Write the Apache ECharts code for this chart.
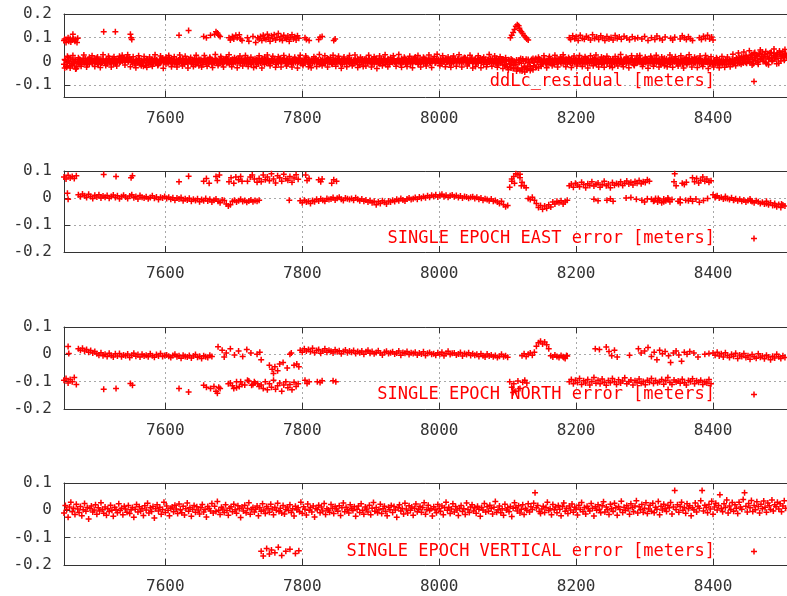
<!DOCTYPE html>
<html><head><meta charset="utf-8">
<script src="https://cdn.jsdelivr.net/npm/echarts@6/dist/echarts.min.js"></script>
<style>html,body{margin:0;padding:0;background:#fff}#c{width:787px;height:596px}</style>
</head><body><div id="c"></div>
<script>
// ---- axes / labels ----
const xMin = 7452, xMax = 8508;
const xTicks = [7600, 7800, 8000, 8200, 8400];
const yTicksRes = [-0.1, 0, 0.1, 0.2];
const yTicksPos = [-0.2, -0.1, 0, 0.1];
const titles = ['ddLc_residual [meters]', 'SINGLE EPOCH EAST error [meters]', 'SINGLE EPOCH NORTH error [meters]', 'SINGLE EPOCH VERTICAL error [meters]'];

// ---- panel 1: ddLc residuals (mm), epochs every 2 from 7452 ----
const resStart = 7452, resStep = 2;
const resBandA = [
-12,5,-25,3,-8,10,-18,-2,8,-30, 0,-10,6,-4,12,-6,2,-14,8,-1, 4,-9,11,-3,7,-12,1,9,-5,3, -7,6,0,13,-4,2,-10,8,5,-2,
6,-2,12,3,15,5,18,-1,10,4, -6,2,-15,7,-3,10,-9,1,-20,5, -4,9,-11,3,6,-7,12,-2,4,-13, 7,0,14,-5,9,2,-8,16,3,-3,
5,-10,8,1,-6,11,-2,6,-12,4, -3,10,0,-9,7,3,-14,9,-1,5, 8,-5,2,12,-7,4,-2,10,-11,1, -6,7,3,-10,5,13,-4,0,9,-8,
2,-12,6,9,-3,1,11,-6,4,-9, 10,0,-7,5,14,-4,2,-13,7,3, -2,8,-10,4,0,12,-5,6,-8,9, 3,-6,11,-1,7,-12,5,1,13,-4,
0,9,-8,6,-3,10,-11,2,8,-5, 6,-2,12,-9,4,1,-6,15,-3,7, -8,3,9,-4,11,-1,5,-10,2,8, 1,-7,4,10,-5,7,-12,3,9,-2,
-4,6,-9,2,12,-6,0,8,-3,5, 7,-11,3,9,-2,5,-15,4,10,-6, -1,8,-5,11,0,-9,6,-3,13,2, 4,-8,10,-2,7,-13,3,9,-6,1,
-5,11,2,-7,8,4,-10,6,-1,12, 3,-4,9,-11,5,0,14,-3,7,-8, 10,-2,6,1,-9,8,3,-5,12,0, 5,-7,11,4,-3,9,-10,7,2,13,
-2,8,4,-8,12,1,6,-4,10,-6, 9,3,-5,14,0,7,-9,5,11,-1, 4,-10,8,2,13,-6,6,-2,9,-12, 7,1,-8,10,-4,5,12,-15,3,-7,
-5,8,-18,2,-25,6,-12,4,-30,1, -12,-32,5,-38,-8,10,-25,2,-35,8, -5,-30,2,-18,8,-25,-3,10,-12,5, -4,9,-10,3,12,-6,1,7,-13,4,
11,-3,6,-9,2,14,-5,8,-1,10, -7,4,12,-2,7,-11,5,1,9,-6, 3,13,-4,8,-9,2,11,-3,6,-12, 9,-1,5,-8,14,0,7,-5,3,10,
-6,6,-11,4,1,12,-3,8,-9,2, 5,-7,10,0,-4,9,-13,6,11,-2, -3,12,2,-10,7,-5,8,1,-8,13, 6,-9,4,11,-2,3,-12,9,0,-6,
10,-4,7,-7,13,2,-1,5,-10,8, -8,3,9,-3,6,-13,1,11,-5,4, 2,-6,12,0,-9,7,4,-11,8,-2, -5,6,-10,1,-14,4,-7,9,-3,-12,
3,-9,-2,7,-13,0,5,-6,10,-8, 6,14,-4,18,2,22,-7,10,25,1, 15,-5,28,8,35,3,20,-12,30,12, 40,6,22,-10,32,14,38,0,25,18,
10,36,-8,28,20,42,5,30
];
const resBandB = [
8,-20,-5,15,-28,-10,6,-15,2,-22, -5,9,-13,3,-2,11,-8,5,-11,7, -8,2,-4,13,-10,5,-1,-7,10,-3, 4,-11,9,-6,1,12,-3,-9,3,11,
-6,10,2,14,-3,11,4,16,6,-2, 6,-9,3,-4,12,-13,4,-7,8,-16, 10,-6,2,-14,8,0,-5,7,-10,3, -6,11,-3,5,-11,8,1,-4,12,-9,
9,-2,-13,6,3,-8,12,-5,1,7, -10,4,8,-3,-12,11,2,-6,9,-4, 3,-13,9,-1,6,-8,13,-3,5,-6, 12,-2,-9,6,0,-11,8,4,-5,10,
-7,5,-2,-10,9,-5,3,12,-8,6, -4,9,3,-11,1,7,-9,5,-2,11, 6,-3,12,-7,8,0,-12,3,10,-5, -9,7,0,9,-5,4,-8,11,-2,6,
12,-4,5,-10,7,-1,4,-7,10,2, -3,10,-7,3,-11,8,5,-2,9,-10, 5,-9,2,12,-4,6,-13,7,0,-6, -8,6,11,-3,2,-10,8,-5,4,12,
9,-1,4,-12,6,3,-7,11,-9,0, -3,5,-8,1,10,-13,7,-2,-6,9, 11,-6,2,-4,8,5,-11,9,-2,-8, -10,6,-3,12,-7,2,9,-12,4,7,
8,-2,-9,5,0,-6,12,-4,7,-11, -6,10,1,7,-8,11,-2,5,-12,3, -3,7,-10,12,2,-5,9,-8,1,6, 11,-4,1,8,-9,3,12,-2,7,-5,
6,-10,13,0,-6,10,-3,9,-1,4, -4,12,7,-3,9,-7,3,13,-5,8, 11,-3,-8,6,1,10,-12,4,-5,7, -2,12,4,-6,9,-10,2,8,-4,6,
10,-14,3,-22,7,-10,-28,5,-16,-6, 6,-28,-5,12,-40,3,-20,9,-30,-6, -22,8,-35,-4,12,0,-28,6,3,-9, 8,-5,2,-12,6,10,-8,0,9,-3,
-6,7,-2,11,-8,4,9,-11,3,-4, 10,-9,1,7,-5,12,-3,-8,4,11, -11,5,8,-6,2,-8,6,12,-7,3, -4,7,-12,3,-6,9,-9,11,-2,-7,
10,-2,5,-8,11,-4,6,-12,4,9, -9,12,-3,7,9,-6,3,-1,-7,6, 8,-6,-11,5,-2,10,-9,4,12,-4, -1,11,-6,2,9,-10,6,-5,13,2,
-7,4,-12,9,-3,6,11,-8,3,-2, 7,-11,2,12,-9,5,-4,-1,10,-7, -4,9,-3,6,11,-8,-10,5,0,10, 4,-11,3,-8,2,-9,7,-15,6,0,
-10,5,-14,2,8,-11,3,-4,-12,6, -6,10,3,-8,15,5,12,-3,20,8, 0,24,10,-10,18,26,2,32,9,22, 14,30,-4,20,10,36,16,4,34,22,
28,12,38,2,24,16,34,20
];
// third group: the band's outer points, every 4 from 7453
const resEdgeStart = 7453, resEdgeStep = 4;
const resBandC = [
-28,22,-18,25,-32,15,-20,27,-24,18, 24,-21,19,-26,28,-17,22,-23,20,-19, 22,26,-15,28,-22,20,-27,24,-18,21, -25,19,-20,28,-17,23,-29,18,25,-22,
20,-24,27,-19,22,-28,17,-21,26,-18, -23,25,-20,18,-26,29,-17,21,-24,19, 28,-22,16,-27,23,-19,25,-21,18,-26, -20,24,-28,19,27,-18,22,-25,20,-23,
25,-19,21,-24,18,-28,26,-17,23,-22, -27,20,-21,29,-18,24,-23,17,26,-20, 22,-29,19,-22,25,-18,27,-26,18,-21, -19,26,-24,20,-30,23,-18,28,-22,17,
24,-20,29,-25,18,-21,22,-27,19,25, -23,18,-19,27,-26,21,30,-18,24,-22, 19,-25,23,-20,28,-24,17,-19,26,-28, -21,24,-27,18,-22,29,-20,23,-25,20,
-30,15,-35,10,-28,-40,5,-32,-45,-20, -38,12,-25,18,-20,24,-27,21,-18,26, -24,19,28,-22,17,-26,23,-19,25,-21, 20,-28,24,-18,27,-23,19,-25,22,-20,
-26,21,-19,29,-22,18,-27,24,-17,23, 25,-21,18,-29,22,-20,26,-24,19,-18, -22,27,-25,20,-19,24,-28,17,28,-23, 18,-26,23,-21,25,-30,20,-24,16,-27,
21,-25,19,-22,30,-18,36,-12,40,-8, 45,-15,38,-5,48,0,42,-14,36,52, -10,44,30,50
];
const resUpper = [
[7452,88],[7453,95],[7455,80],[7456,92],[7458,100],[7459,85],[7461,97],[7462,82],[7464,90],[7465,115],[7466,95],[7468,85],[7469,92],[7471,80],[7472,98],
[7510,125],[7527,125],[7549,115],[7550,100],[7551,92],[7620,110],[7634,130],[7656,105],[7660,100],[7666,110],[7672,115],[7674,125],[7676,120],[7678,110],[7680,105],
[7693,100],[7695,90],[7698,105],[7700,95],[7703,110],[7705,100],[7708,112],[7710,95],[7712,88],[7720,100],[7722,85],[7728,105],[7732,80],[7735,100],
[7737,95],[7739,105],[7741,88],[7743,110],[7745,98],[7747,92],[7749,115],[7751,100],[7753,85],[7755,108],[7757,96],[7759,112],[7761,90],[7763,102],[7765,118],
[7767,94],[7769,105],[7771,88],[7773,110],[7775,99],[7777,93],[7779,107],[7781,85],[7783,101],[7785,112],[7787,95],[7789,104],[7791,90],[7793,108],[7795,98],
[7804,100],[7806,92],[7810,88],[7824,92],[7826,102],[7829,105],[7846,88],[7848,95],
[8104,100],[8106,110],[8108,122],[8110,135],[8112,148],[8114,155],[8116,150],[8117,140],[8118,132],[8120,125],[8122,118],[8124,108],[8126,102],[8128,95],[8130,90],
[8190,100],[8192,92],[8195,108],[8198,96],[8200,104],[8203,88],[8206,110],[8209,98],[8212,94],[8215,106],[8218,100],[8221,90],[8224,112],[8227,97],[8230,103],
[8233,92],[8236,108],[8239,99],[8242,88],[8245,105],[8248,95],[8251,101],[8254,90],[8257,109],[8260,97],[8263,103],[8266,93],[8270,106],[8274,99],[8278,91],
[8282,104],[8286,96],[8290,100],[8296,95],[8300,105],[8305,88],[8310,100],[8315,92],[8318,107],[8322,97],[8326,90],[8330,103],
[8338,98],[8341,90],[8344,102],[8352,95],[8355,108],[8358,100],[8361,92],[8364,104],[8367,96],[8370,88],
[8380,100],[8383,92],[8386,106],[8389,97],[8392,110],[8395,95],[8398,103],[8400,90]
];

// ---- panel 2: EAST error (mm), epochs every 3 from 7452 ----
const eastStart = 7452, eastStep = 3;
const eastMain = [
78,70,84,74,80,72,82,12,5,15, 8,2,14,6,-2,10,4,12,0,7, 3,9,-1,6,11,2,8,-3,5,10, 4,-2,7,12,1,6,-4,9,3,0,
5,-3,2,8,-1,4,-6,3,0,6, -2,3,-5,1,-8,0,-4,2,-10,-3, -7,-1,-12,-5,-9,-3,-14,-6,-10,-2, -11,-5,-15,-8,-4,-12,-18,-7,-9,-22,
-30,-25,-12,-8,-15,-10,-5,-13,-9,-16, -11,-7,-14,-9,-12,72,60,85,68,78, 64,90,70,56,82,75,62,88,71,66, 80,58,74,86,69,-10,-18,-8,-15,-12,
-20,-9,-14,-5,-11,-3,-8,-12,-2,-6, -4,2,-7,-1,3,-5,-9,0,-3,-6, -2,-8,1,-5,-10,-4,-12,-7,-15,-9, -18,-12,-25,-14,-20,-10,-16,-22,-11,-15,
-8,-13,-5,-10,-2,-7,-11,-4,0,-6, -3,2,-5,4,-1,6,1,8,3,10, 6,12,4,9,14,5,10,3,8,11, 5,9,2,7,0,6,4,-1,3,5,
-2,3,-5,0,-8,-3,-6,-10,-4,-12, -9,-15,-20,-12,-25,-32,-28,40,62,80, 90,86,75,58,45,38,-2,-6,3,-8, -20,-35,-28,-42,-30,-38,-25,-33,-15,-22,
-12,-18,-10,-22,-15,-8,45,52,40,55, 48,42,58,50,38,53,46,60,44,51, 56,40,49,62,45,52,38,57,47,54, 50,60,46,55,63,52,58,48,61,55,
65,53,60,57,68,62,-5,-12,-2,-15, -8,-18,-4,-10,0,-14,-6,60,45,-12, -5,55,50,58,-10,-3,75,60,72,56, 66,78,62,70,58,64,12,2,8,0,
3,-4,6,-2,-6,1,-8,-3,-10,-5, -12,-7,-15,-9,-4,-13,-18,-10,-14,-20, -16,-22,-12,-25,-18,-28,-20,-32,-24,-35, -26,-30
];
const eastExtra = [
[7457,18],[7458,-5],[7510,87],[7528,80],[7550,75],[7552,82],[7620,60],[7634,81],[7656,62],[7660,72],[7664,55],[7674,80],[7676,65],[7679,85],
[7693,60],[7696,75],[7700,55],[7703,78],[7707,68],[7710,80],[7712,62],[7720,62],[7724,78],[7727,85],[7730,70],[7734,58],[7737,-8],[7781,-8],
[7805,85],[7807,65],[7810,72],[7824,68],[7827,60],[7829,70],[7843,55],[7846,68],[7850,62],[8106,70],[8110,55],[8118,88],[8120,45],
[8226,-5],[8232,-10],[8245,-8],[8250,-3],[8254,-12],[8273,0],[8280,2],[8288,-5],[8296,-8],[8300,-15],[8304,-3],[8314,-10],[8320,-2],[8328,-14],
[8335,-6],[8344,90],[8352,-18],[8360,-8],[8370,-12],[8375,-4],[8380,-16],[8386,-9],[8392,-2],[8404,6],[8418,-1],[8430,-7],[8455,-10],[8478,-20],[8490,-27],[8500,-22]
];

// ---- panel 3: NORTH error (mm), epochs every 3 from 7452 ----
const northStart = 7452, northStep = 3;
const northMain = [
-95,-88,-105,-92,-100,-85,-110,20,15,22, 12,18,8,14,5,10,2,-3,6,-5, 0,-8,4,-4,-10,2,-6,3,-9,-2, -5,1,-12,-3,4,-7,-1,-10,0,-6,
-3,-9,2,-5,-11,-1,-6,3,-8,-4, -2,-7,-12,-4,0,-9,-5,-14,-3,-8, -10,-4,-13,-6,-1,-11,-7,-15,-5,-9, -12,-3,-8,-118,-135,28,-125,15,-10,5,
-108,20,-115,-2,-122,12,-100,-8,-112,18, -98,5,-110,-105,0,-118,-112,-125,-100,-130, -108,-120,-95,-128,-115,-105,-135,-112,-100,-122, -110,-130,-102,-118,-108,15,8,20,12,18,
10,22,6,14,18,4,12,20,8,15, 11,5,17,9,13,2,10,16,6,12, 8,14,3,10,6,12,0,9,15,4, 10,2,7,13,5,-2,8,11,3,6,
9,1,5,12,-3,7,4,10,-1,6, 3,8,-2,5,1,9,-4,4,7,0, 2,-3,6,0,8,-5,3,11,-1,4, 5,-2,1,7,-6,3,-1,6,-4,2,
-3,0,-8,2,-5,-10,1,-6,-2,-9, -4,-12,-7,0,-9,-5,-11,-100,-120,-108, -135,-98,-125,-5,2,-8,0,5,-3,8, 30,42,48,38,45,35,20,-5,-10,-2,
-8,-12,-4,-9,-15,-6,-100,-92,-108,-95, -103,-88,-110,-97,-105,-92,-112,-99,-85,-106, -95,-108,-90,-102,-113,-96,-104,-88,-100,-110, -93,-105,-98,-86,-108,-100,-94,-112,-97,-103,
-90,-106,-99,-111,-95,-102,-88,-107,-96,-104, -100,-92,-109,-97,-85,-103,-110,-94,-101,-98, -106,-91,-104,-112,-96,-100,-89,-108,-97,-102, -95,-110,-100,-105,-92,-108,5,-3,8,-6,
2,-10,6,-4,-12,0,-7,4,-15,-2, -8,3,-12,-5,-18,-1,-9,-14,2,-11, -6,-16,-3,-10,-20,-7,-13,0,-9,-15, -5,-12
];
const northExtra = [
[7458,29],[7459,3],[7510,-128],[7528,-125],[7549,-107],[7552,-113],[7620,-125],[7634,-138],[7656,-113],[7660,-120],[7666,-125],[7676,-142],[7678,-120],
[7695,-105],[7700,-125],[7704,-100],[7708,-118],[7712,-110],[7720,-95],[7726,-113],[7730,-100],[7735,-108],
[7738,8],[7740,-20],[7752,-40],[7756,-55],[7758,-70],[7760,-45],[7764,-60],[7767,-35],[7772,-30],[7778,-50],[7782,0],[7784,5],[7788,-40],[7792,-35],[7795,-45],
[7804,-95],[7807,-107],[7810,-100],[7822,-100],[7826,-103],[7829,-97],[7845,-97],[7849,-100],[8108,-140],[8122,-102],[8125,-95],[8128,-105],[8182,-12],[8186,-4],
[8228,20],[8234,18],[8244,27],[8248,10],[8252,-5],[8256,15],[8260,-10],[8278,-3],[8291,20],[8295,5],[8300,12],[8305,25],[8310,-8],[8314,8],[8318,-20],
[8322,15],[8326,2],[8330,10],[8335,-5],[8338,-30],[8342,5],[8346,12],[8350,-2],[8354,-25],[8358,8],[8362,0],[8366,10],[8372,5],[8378,-10],[8388,0],[8394,3]
];

// ---- panel 4: VERTICAL error (mm), epochs every 2 from 7452 ----
const vertStart = 7452, vertStep = 2;
const vertMain = [
-10,18,3,-25,12,30,-5,8,-15,22, 5,-8,14,-20,2,25,-3,10,-32,7, 16,-6,1,20,-14,9,-2,28,4,-11, 12,-18,6,-4,19,0,-22,11,3,-9,
24,-1,8,-16,15,5,-7,18,-12,2, 10,-25,4,21,-6,13,-3,7,-19,17, 1,26,-10,9,-4,14,-28,6,20,-2, 11,-14,3,30,-8,16,0,-20,8,12,
-5,19,5,-12,23,2,-9,15,-17,6, 27,-3,10,-22,4,18,-7,13,1,-13, 9,21,-6,3,-24,14,7,-2,25,-10, 15,-4,32,0,-15,11,5,-8,20,-1,
-18,8,13,-5,22,2,-11,17,6,-26, 12,-2,19,-9,7,28,-14,3,10,-6, 4,16,-20,9,-3,24,1,-12,14,7, -7,22,5,-16,11,0,26,-4,8,-10,
18,-13,3,12,-1,20,-8,6,-21,15, 2,9,-5,30,-11,13,4,-17,23,0, 10,-6,16,-24,7,3,19,-9,12,-2, 25,-15,6,1,-7,21,8,-12,14,5,
-3,17,-19,9,27,-5,11,2,-10,20, 7,-1,13,-22,4,16,-8,24,0,-14, 12,5,-6,19,-16,8,29,-3,10,-9, 3,22,-12,6,15,-4,-20,11,2,18,
-8,14,1,-25,9,20,-2,7,-13,26, 5,-10,17,0,12,-18,8,23,-5,4, 15,-7,10,28,-14,3,19,-1,6,-21, 13,2,-9,21,7,-3,16,-16,9,30,
0,11,-12,5,24,-6,14,1,-19,8, 18,-4,6,-15,27,3,-8,12,20,-2, 9,-11,15,4,-22,10,1,25,-6,13, -3,19,7,-13,11,32,-7,2,16,-9,
6,-18,22,1,9,-5,14,-23,8,28, 11,-2,17,-10,4,20,-15,7,0,24, -6,13,3,26,64,9,18,-4,-12,5, 15,-8,10,30,-1,6,-16,21,2,12,
-9,18,4,-20,14,27,-3,8,-12,16, 1,23,-7,11,5,-17,19,3,29,-5, 10,-13,15,6,-2,25,8,-21,13,0, 20,4,-9,17,31,-6,12,2,-15,22,
7,-4,26,9,-18,14,3,33,-8,11, -1,18,6,-14,24,10,-5,16,35,-10, 13,2,21,-7,8,28,-12,5,19,-3, 26,-9,11,4,32,-16,15,1,22,7,
-4,18,9,29,-13,12,73,3,20,-7, 14,30,0,10,-11,24,6,17,-20,9, 2,27,-6,15,8,35,73,-2,19,11, -9,21,5,33,-14,12,26,1,18,57,
7,-5,24,10,38,-10,16,3,29,-3, 20,8,-12,30,12,4,40,64,15,-6, 25,9,36,-4,18,2,31,14,-10,22, 6,34,11,-7,27,17,3,38,-2,20,
13,30,5,24,-5,16,35,8
];
const vertExtra = [
[7740,-150],[7743,-167],[7748,-140],[7752,-160],[7755,-145],[7760,-155],[7765,-135],[7770,-165],[7776,-150],[7782,-142],[7790,-158],[7795,-148]
];

// ---- build ----
function epochData(start, step, vals) {
  const out = [];
  vals.forEach((v, i) => { if (v !== null) out.push([start + step * i, v / 1000]); });
  return out;
}
function pairData(list) { return list.map(p => [p[0], p[1] / 1000]); }

const RED = '#ff0000';
const PLUS = 'path://M3,0H5V8H3ZM0,3H8V5H0Z';
const monoFont = 'DejaVu Sans Mono';

const grids = [
  { left: 64, right: -2, top: 14, height: 83 },
  { left: 64, right: -2, top: 171, height: 81 },
  { left: 64, right: -2, top: 327, height: 82 },
  { left: 64, right: -2, top: 483, height: 82 }
];
const yRanges = [[-0.15, 0.2, yTicksRes], [-0.2, 0.1, yTicksPos], [-0.2, 0.1, yTicksPos], [-0.2, 0.1, yTicksPos]];
const legendTops = [73, 230, 386, 543];

const xAxes = [], yAxes = [], legends = [], series = [];
const gridLine = { show: true, lineStyle: { color: '#a8a8a8', type: [2, 3], width: 1 } };
const axLine = { show: true, onZero: false, lineStyle: { color: '#333', width: 1 } };

grids.forEach((g, i) => {
  xAxes.push({
    gridIndex: i, type: 'value', min: xMin, max: xMax, position: 'bottom',
    axisLine: axLine,
    axisTick: { show: true, inside: true, length: 6, customValues: xTicks, lineStyle: { color: '#333' } },
    axisLabel: { customValues: xTicks, margin: 14, color: '#333', fontFamily: monoFont, fontSize: 16,
                 formatter: v => String(v) },
    splitLine: gridLine
  });
  xAxes.push({
    gridIndex: i, type: 'value', min: xMin, max: xMax, position: 'top',
    axisLine: axLine,
    axisTick: { show: true, inside: true, length: 6, customValues: xTicks, lineStyle: { color: '#333' } },
    axisLabel: { show: false },
    splitLine: { show: false }
  });
  const [ymin, ymax, yt] = yRanges[i];
  yAxes.push({
    gridIndex: i, type: 'value', min: ymin, max: ymax,
    axisLine: axLine,
    axisTick: { show: true, inside: true, length: 6, customValues: yt, lineStyle: { color: '#333' } },
    axisLabel: { customValues: yt, margin: 12, color: '#333', fontFamily: monoFont, fontSize: 16 },
    splitLine: gridLine
  });
  legends.push({
    data: [titles[i]], right: 30, top: legendTops[i], padding: 0, align: 'right',
    itemWidth: 68, itemHeight: 6, icon: PLUS, selectedMode: false,
    textStyle: { color: RED, fontFamily: monoFont, fontSize: 17 }
  });
});

function addSeries(panel, data) {
  series.push({
    type: 'scatter', name: titles[panel], xAxisIndex: panel * 2, yAxisIndex: panel,
    data: data, symbol: PLUS, symbolSize: 6, itemStyle: { color: RED, opacity: 1 },
    animation: false, silent: true
  });
}
addSeries(0, epochData(resStart, resStep, resBandA));
addSeries(0, epochData(resStart + 1, resStep, resBandB));
addSeries(0, epochData(resEdgeStart, resEdgeStep, resBandC));
addSeries(0, pairData(resUpper));
addSeries(1, epochData(eastStart, eastStep, eastMain));
addSeries(1, pairData(eastExtra));
addSeries(2, epochData(northStart, northStep, northMain));
addSeries(2, pairData(northExtra));
addSeries(3, epochData(vertStart, vertStep, vertMain));
addSeries(3, pairData(vertExtra));

const chart = echarts.init(document.getElementById('c'), null, { renderer: 'canvas' });
chart.setOption({
  backgroundColor: '#fff',
  animation: false,
  grid: grids, xAxis: xAxes, yAxis: yAxes, legend: legends, series: series
});
</script>
</body></html>
